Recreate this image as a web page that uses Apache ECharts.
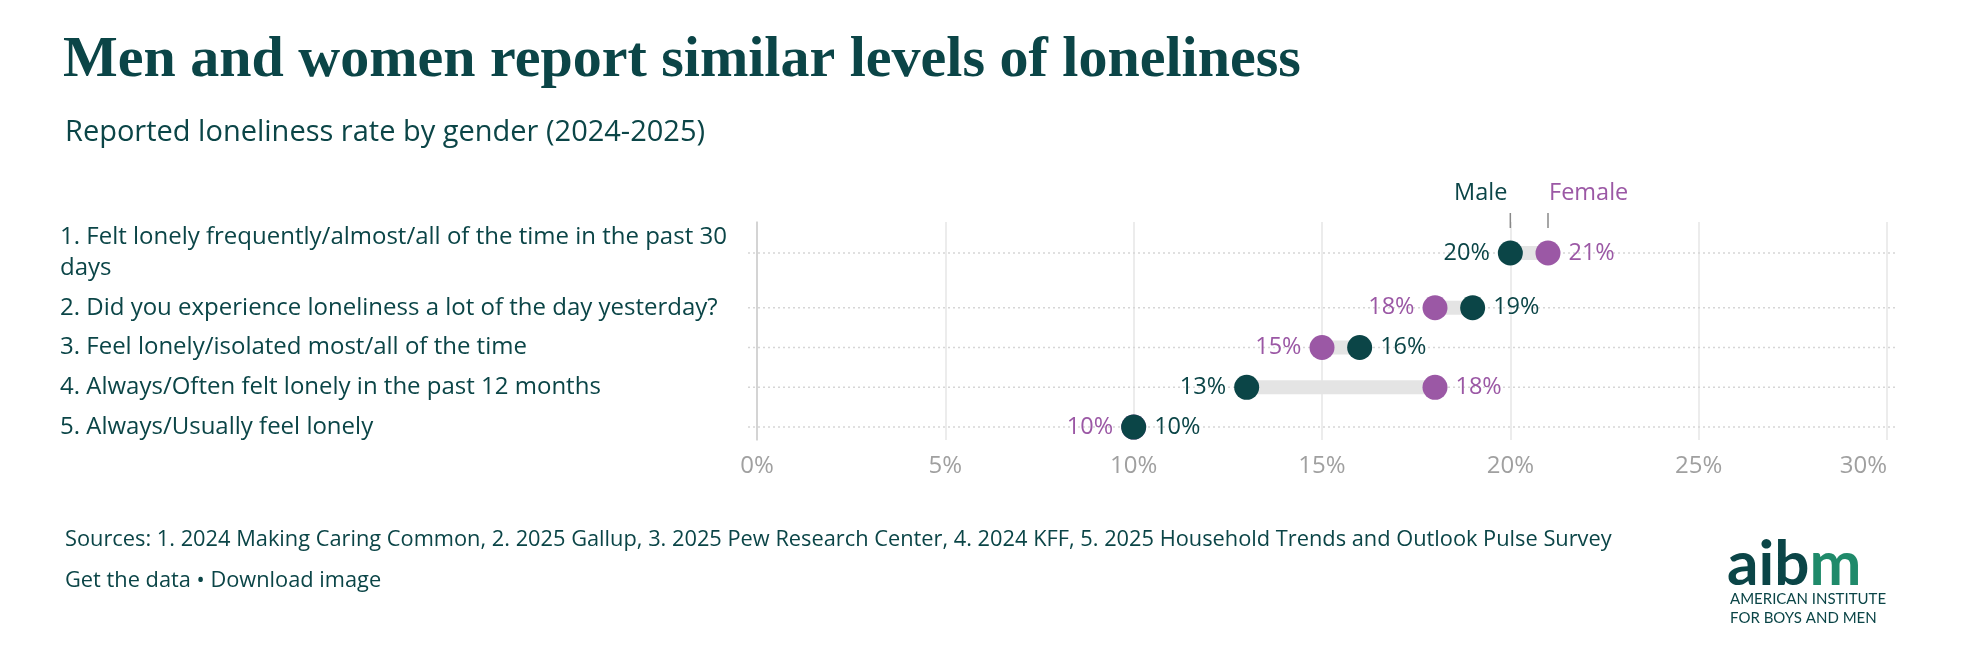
<!DOCTYPE html>
<html><head><meta charset="utf-8">
<script src="https://cdn.jsdelivr.net/npm/echarts@6/dist/echarts.min.js"></script>
<style>html,body{margin:0;padding:0;background:#fff}#c{width:1962px;height:668px}</style>
</head><body><div id="c"></div>
<script>
const categories = [
  "1. Felt lonely frequently/almost/all of the time in the past 30\ndays",
  "2. Did you experience loneliness a lot of the day yesterday?",
  "3. Feel lonely/isolated most/all of the time",
  "4. Always/Often felt lonely in the past 12 months",
  "5. Always/Usually feel lonely"
];
const male = [20, 19, 16, 13, 10];
const female = [21, 18, 15, 18, 10];
const xTicks = [0, 5, 10, 15, 20, 25, 30];

const TEAL = '#0b4547', PURPLE = '#9b58a5', FONT = 'Open Sans';
const rowH = categories.map(c => c.split('\n').length > 1 ? 1.75 : 1);
const rowY = [];
{ let y = 0; rowH.forEach((h, i) => { if (i > 0) y += rowH[i - 1] / 2 + h / 2; rowY.push(y); }); }

const chart = echarts.init(document.getElementById('c'));

function pts(vals, other, isMale) {
  return vals.map((v, i) => {
    const onLeft = v < other[i] || (v === other[i] && !isMale);
    return { value: [v, rowY[i]], label: { position: onLeft ? 'left' : 'right' } };
  });
}

chart.setOption({
  animation: false,
  textStyle: { fontFamily: FONT },
  title: [
    { text: 'Men and women report similar levels of loneliness', left: 58, top: 27,
      textStyle: { fontFamily: 'Liberation Serif', fontWeight: 'bold', fontSize: 58, color: TEAL } },
    { text: 'Reported loneliness rate by gender (2024-2025)', left: 60, top: 113,
      textStyle: { fontFamily: FONT, fontWeight: 'normal', fontSize: 29, color: TEAL } },
    { text: 'Sources: 1. 2024 Making Caring Common, 2. 2025 Gallup, 3. 2025 Pew Research Center, 4. 2024 KFF, 5. 2025 Household Trends and Outlook Pulse Survey', left: 60, top: 524,
      textStyle: { fontFamily: FONT, fontWeight: 'normal', fontSize: 21.8, color: TEAL } },
    { text: 'Get the data • Download image', left: 60, top: 565,
      textStyle: { fontFamily: FONT, fontWeight: 'normal', fontSize: 21.8, color: TEAL } }
  ],
  grid: { left: 757, right: 75, top: 222, height: 218 },
  xAxis: {
    type: 'value', min: 0, max: 30, interval: 5,
    axisLine: { show: false }, axisTick: { show: false },
    splitLine: { lineStyle: { color: '#e6e6e6', width: 1.5 } },
    axisLabel: { formatter: v => xTicks.includes(v) ? v + '%' : '', color: '#a0a0a0', fontSize: 24, margin: 14, alignMaxLabel: 'right' }
  },
  yAxis: {
    type: 'value', inverse: true, min: -0.78, max: 4.70,
    axisLine: { show: true, lineStyle: { color: '#cccccc', width: 1.5 } },
    axisTick: { show: false }, splitLine: { show: false }, axisLabel: { show: false }
  },
  series: [
    {
      type: 'custom', silent: true, z: 1,
      data: categories.map((c, i) => [male[i], female[i], rowY[i]]),
      encode: { x: [0, 1], y: 2 },
      renderItem: (params, api) => {
        const a = api.coord([api.value(0), api.value(2)]);
        const b = api.coord([api.value(1), api.value(2)]);
        const x0 = api.coord([0, 0])[0], x1 = api.coord([30, 0])[0];
        return { type: 'group', children: [
          { type: 'line', shape: { x1: x0 - 9, y1: a[1], x2: x1 + 8, y2: a[1] },
            style: { stroke: '#d6d6d6', lineWidth: 1.5, lineDash: [2, 3] } },
          { type: 'rect', shape: { x: Math.min(a[0], b[0]), y: a[1] - 7, width: Math.abs(b[0] - a[0]), height: 14 },
            style: { fill: '#e4e4e4' } },
          { type: 'text', style: { text: categories[params.dataIndex], x: 60, y: a[1], fill: TEAL,
            font: '24px ' + FONT, lineHeight: 31, verticalAlign: 'middle', textAlign: 'left' } }
        ]};
      }
    },
    {
      type: 'scatter', name: 'Female', z: 3, symbolSize: 25,
      itemStyle: { color: PURPLE, opacity: 1 },
      label: { show: true, formatter: p => p.value[0] + '%', color: PURPLE, fontSize: 23.5, distance: 8 },
      data: pts(female, male, false)
    },
    {
      type: 'scatter', name: 'Male', z: 4, symbolSize: 25,
      itemStyle: { color: TEAL, opacity: 1 },
      label: { show: true, formatter: p => p.value[0] + '%', color: TEAL, fontSize: 23.5, distance: 8 },
      data: pts(male, female, true)
    }
  ]
});

const mx = chart.convertToPixel({ gridIndex: 0 }, [male[0], 0])[0];
const fx = chart.convertToPixel({ gridIndex: 0 }, [female[0], 0])[0];
chart.setOption({
  graphic: [
    { type: 'text', x: mx - 3, y: 181, style: { text: 'Male', fill: TEAL, font: '23.5px ' + FONT, textAlign: 'right' } },
    { type: 'text', x: fx + 1, y: 181, style: { text: 'Female', fill: PURPLE, font: '23.5px ' + FONT, textAlign: 'left' } },
    { type: 'line', shape: { x1: mx, y1: 213, x2: mx, y2: 228 }, style: { stroke: '#888', lineWidth: 1.5 } },
    { type: 'line', shape: { x1: fx, y1: 213, x2: fx, y2: 228 }, style: { stroke: '#888', lineWidth: 1.5 } },
    { type: 'text', x: 1727, y: 534, style: { text: '{a|aib}{b|m}', rich: {
        a: { fill: TEAL, font: 'bold 62px Lato' },
        b: { fill: '#1f8a6a', font: 'bold 62px Lato' } } } },
    { type: 'text', x: 1730, y: 592, style: { text: 'AMERICAN INSTITUTE', fill: TEAL, font: '15px Lato' } },
    { type: 'text', x: 1730, y: 611, style: { text: 'FOR BOYS AND MEN', fill: TEAL, font: '15px Lato' } }
  ]
});
</script></body></html>
